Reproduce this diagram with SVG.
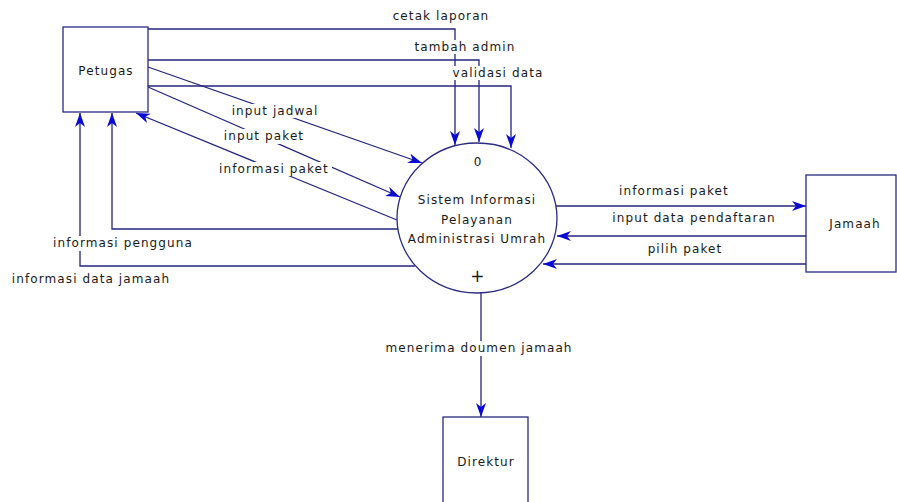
<svg xmlns="http://www.w3.org/2000/svg" width="897" height="502" viewBox="0 0 897 502">
<style>
.ln{fill:none;stroke:#24247c;stroke-width:1.3}
.bx{fill:#fff;stroke:#2a2a80;stroke-width:1.3}
.t{font-family:"DejaVu Sans",Verdana,sans-serif;font-size:12px;fill:#1a1a1a;letter-spacing:1.1px;text-anchor:middle}
.bg{fill:#fff}
</style>
<defs>
<marker id="ah" markerUnits="userSpaceOnUse" markerWidth="18" markerHeight="12" refX="14" refY="5" orient="auto">
<path d="M0,0 L14,5 L0,10 L4,5 Z" fill="#0a0ad2"/>
</marker>
</defs>
<g id="connectors">
<polyline class="ln" points="148,29 455,29 455,145" marker-end="url(#ah)"/>
<polyline class="ln" points="148,60 479,60 479,142" marker-end="url(#ah)"/>
<polyline class="ln" points="148,86 511,86 511,148" marker-end="url(#ah)"/>
<line class="ln" x1="148" y1="67" x2="422" y2="163" marker-end="url(#ah)"/>
<line class="ln" x1="148" y1="87" x2="400" y2="197" marker-end="url(#ah)"/>
<line class="ln" x1="397" y1="220" x2="136" y2="113" marker-end="url(#ah)"/>
<polyline class="ln" points="398,229 112,229 112,113" marker-end="url(#ah)"/>
<polyline class="ln" points="415,266 80,266 80,113" marker-end="url(#ah)"/>
<line class="ln" x1="556" y1="206" x2="806" y2="206" marker-end="url(#ah)"/>
<line class="ln" x1="806" y1="236" x2="557" y2="236" marker-end="url(#ah)"/>
<line class="ln" x1="806" y1="264" x2="543" y2="264" marker-end="url(#ah)"/>
<line class="ln" x1="481" y1="293" x2="481" y2="417" marker-end="url(#ah)"/>
</g>
<g id="labels">
<rect class="bg" x="410" y="40" width="108" height="14"/>
<rect class="bg" x="450" y="66" width="96" height="14"/>
<rect class="bg" x="229" y="104" width="90" height="14"/>
<rect class="bg" x="222" y="129" width="84" height="15"/>
<rect class="bg" x="216" y="162" width="116" height="14"/>
<rect class="bg" x="50" y="236" width="146" height="15"/>
<rect class="bg" x="378" y="341" width="200" height="15"/>
<text class="t" x="441" y="20">cetak laporan</text>
<text class="t" x="465" y="51">tambah admin</text>
<text class="t" x="498" y="77">validasi data</text>
<text class="t" x="275" y="115">input jadwal</text>
<text class="t" x="264" y="140">input paket</text>
<text class="t" x="274" y="173">informasi paket</text>
<text class="t" x="123" y="247">informasi pengguna</text>
<text class="t" x="91" y="283">informasi data jamaah</text>
<text class="t" x="674" y="195">informasi paket</text>
<text class="t" x="694" y="222">input data pendaftaran</text>
<text class="t" x="685" y="253">pilih paket</text>
<text class="t" x="479" y="352">menerima doumen jamaah</text>
</g>
<g id="petugas">
<rect class="bx" x="63" y="27" width="85" height="85"/>
<text class="t" x="106" y="75">Petugas</text>
</g>
<g id="sistem">
<ellipse class="bx" cx="477" cy="218" rx="80" ry="75"/>
<text class="t" x="478" y="166">0</text>
<text class="t" x="477" y="204">Sistem Informasi</text>
<text class="t" x="477" y="224">Pelayanan</text>
<text class="t" x="477" y="243">Administrasi Umrah</text>
<text class="t" x="478" y="282" style="font-size:17px">+</text>
</g>
<g id="jamaah">
<rect class="bx" x="806" y="175" width="90" height="97"/>
<text class="t" x="855" y="228">Jamaah</text>
</g>
<g id="direktur">
<rect class="bx" x="443" y="417" width="85" height="95"/>
<text class="t" x="486" y="466">Direktur</text>
</g>
</svg>
